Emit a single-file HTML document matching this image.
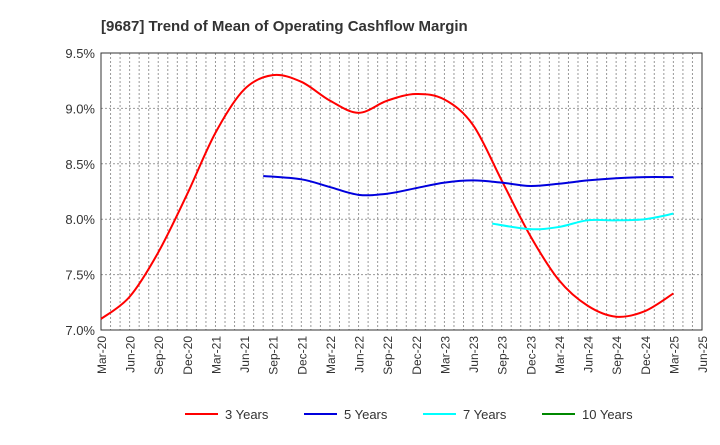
<!DOCTYPE html>
<html><head><meta charset="utf-8"><style>
body{margin:0;background:#fff;font-family:"Liberation Sans",sans-serif}
</style></head><body>
<svg id="c" width="720" height="440" xmlns="http://www.w3.org/2000/svg">
<text x="101" y="31" font-size="15" font-weight="bold" fill="#333">[9687]  Trend of Mean of Operating Cashflow Margin</text>
</svg>
<script>
const xLabels=["Mar-20","Jun-20","Sep-20","Dec-20","Mar-21","Jun-21","Sep-21","Dec-21","Mar-22","Jun-22","Sep-22","Dec-22","Mar-23","Jun-23","Sep-23","Dec-23","Mar-24","Jun-24","Sep-24","Dec-24","Mar-25","Jun-25"];
const yTicks=[7.0,7.5,8.0,8.5,9.0,9.5];
const s3=[7.10,7.30,7.70,8.22,8.78,9.17,9.30,9.24,9.07,8.96,9.07,9.13,9.08,8.85,8.35,7.85,7.45,7.22,7.12,7.17,7.33];
const s5=[8.39,8.36,8.29,8.22,8.23,8.28,8.33,8.35,8.33,8.30,8.32,8.35,8.37,8.38,8.38];
const s7=[7.96,7.91,7.93,7.99,7.99,8.00,8.05];
const s10=[];
const L=101,R=702,T=53,B=330,NS="http://www.w3.org/2000/svg";
const svg=document.getElementById('c');
const xq=i=>L+(R-L)*i/(xLabels.length-1);
const y=v=>B-(v-7.0)/(9.5-7.0)*(B-T);
function mk(t,a){const e=document.createElementNS(NS,t);for(const k in a)e.setAttribute(k,a[k]);svg.appendChild(e);return e;}
for(let m=1;m<(xLabels.length-1)*3;m++){const x=L+(R-L)*m/((xLabels.length-1)*3);
const g=mk('line',{x1:x,x2:x,y1:T,y2:B,stroke:'#999','stroke-dasharray':'2,2','stroke-width':1});

}
yTicks.forEach(v=>{if(v>7&&v<9.5){const g=mk('line',{x1:L,x2:R,y1:y(v),y2:y(v),stroke:'#999','stroke-dasharray':'2,2'});

}
const t=mk('text',{x:L-6,y:y(v)+5,'text-anchor':'end','font-size':13,fill:'#333'});t.textContent=v.toFixed(1)+'%';

});
xLabels.forEach((l,i)=>{const t=mk('text',{transform:`translate(${xq(i)+5},${B+6}) rotate(-90)`,'text-anchor':'end','font-size':12,fill:'#333'});t.textContent=l;

});
const fr=mk('rect',{x:L,y:T,width:R-L,height:B-T,fill:'none',stroke:'#333','stroke-width':1});


// first point shifted earlier by 'lead' quarters to match reference start
function path(vals,off,lead){const p=vals.map((v,i)=>[xq(i+off-(i===0?lead:0)),y(v)]);if(p.length<2)return '';let d=`M${p[0][0]},${p[0][1]}`;
for(let i=0;i<p.length-1;i++){const p0=p[i-1]||p[i],p1=p[i],p2=p[i+1],p3=p[i+2]||p2;
d+=` C${p1[0]+(p2[0]-p0[0])/6},${p1[1]+(p2[1]-p0[1])/6} ${p2[0]-(p3[0]-p1[0])/6},${p2[1]-(p3[1]-p1[1])/6} ${p2[0]},${p2[1]}`;}return d;}
[[s3,0,0,'#f00','series-3-years'],[s5,6,0.33,'#00d','series-5-years'],[s7,14,0.33,'#0ff','series-7-years'],[s10,0,0,'#080','series-10-years']].forEach(([s,o,ld,c,n])=>{if(s.length<2)return;
const e=mk('path',{d:path(s,o,ld),fill:'none',stroke:c,'stroke-width':2});

});
[['3 Years','#f00',185],['5 Years','#00d',304],['7 Years','#0ff',423],['10 Years','#080',542]].forEach(([l,c,x])=>{
const ln=mk('line',{x1:x,x2:x+33,y1:414,y2:414,stroke:c,'stroke-width':2});


const t=mk('text',{x:x+40,y:419,'font-size':13,fill:'#333'});t.textContent=l;

});
</script>
</body></html>
